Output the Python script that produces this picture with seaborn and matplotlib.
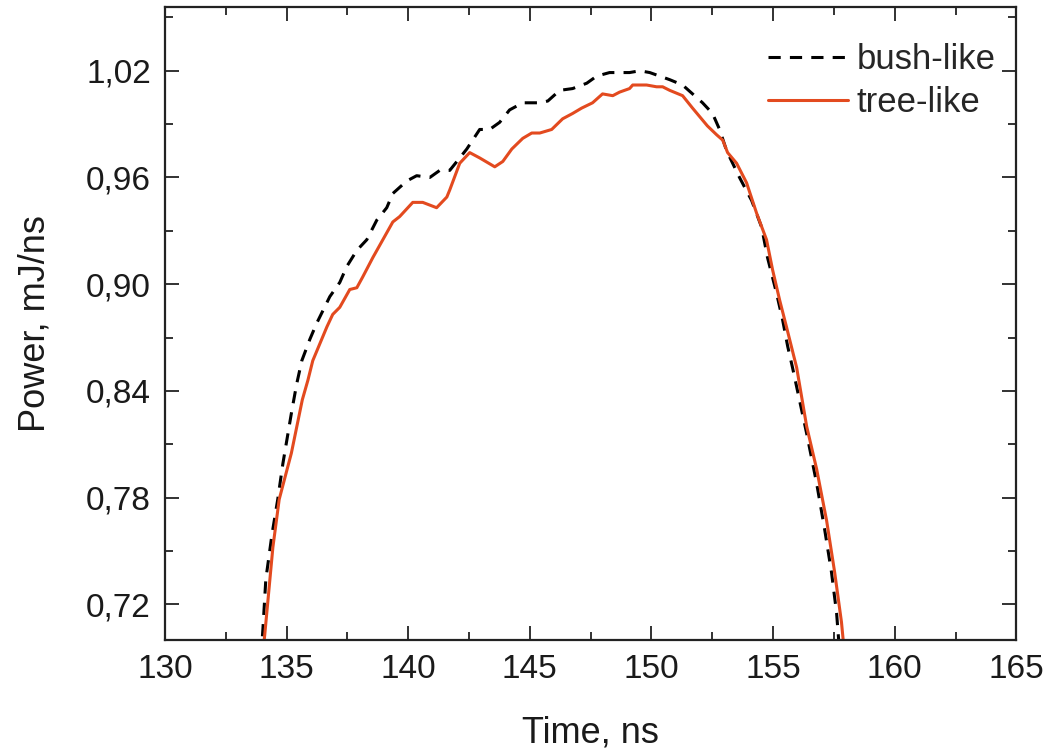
import numpy as np
import pandas as pd
import matplotlib
matplotlib.use("Agg")
import matplotlib.pyplot as plt
from matplotlib.ticker import MultipleLocator, FuncFormatter
import seaborn as sns

# Dados
tempo_bush = [133.95, 134.03, 134.15, 134.40, 134.64, 134.85, 135.22, 135.42, 135.63, 135.96,
              136.24, 136.78, 137.19, 137.48, 137.89, 138.30, 138.71, 139.12, 139.37, 139.94,
              140.35, 140.89, 141.30, 141.71, 142.12, 142.41, 142.94, 143.35, 143.76, 144.17,
              144.71, 145.41, 145.74, 146.23, 146.76, 147.34, 147.75, 148.28, 148.82, 149.10,
              149.52, 149.93, 150.34, 150.75, 151.28, 151.69, 152.10, 152.51, 152.80, 153.09,
              153.62, 154.12, 154.53, 154.77, 155.14, 155.39, 155.60, 155.80, 156.38, 156.79,
              157.12, 157.40, 157.61, 157.75]
potencia_bush = [0.690, 0.706, 0.734, 0.759, 0.779, 0.799, 0.829, 0.844, 0.857, 0.869,
                 0.878, 0.893, 0.901, 0.910, 0.919, 0.925, 0.936, 0.943, 0.951, 0.958,
                 0.961, 0.960, 0.964, 0.964, 0.971, 0.976, 0.987, 0.987, 0.991, 0.998,
                 1.002, 1.002, 1.003, 1.009, 1.010, 1.013, 1.017, 1.019, 1.019, 1.019,
                 1.020, 1.019, 1.017, 1.015, 1.012, 1.007, 1.002, 0.996, 0.987, 0.975,
                 0.960, 0.947, 0.932, 0.915, 0.895, 0.880, 0.865, 0.853, 0.816, 0.788,
                 0.762, 0.738, 0.715, 0.690]

tempo_tree = [134.00, 134.10, 134.44, 134.70, 135.20, 135.65, 135.88, 136.08, 136.66, 136.90,
              137.19, 137.60, 137.89, 138.13, 138.55, 138.96, 139.37, 139.65, 140.19, 140.60,
              141.17, 141.59, 141.71, 142.12, 142.53, 142.94, 143.56, 143.89, 144.26, 144.71,
              145.08, 145.41, 145.90, 146.35, 146.76, 147.13, 147.58, 147.99, 148.41, 148.69,
              149.10, 149.23, 149.80, 150.21, 150.46, 150.75, 151.28, 151.69, 152.30, 152.68,
              152.93, 153.13, 153.50, 153.91, 154.32, 154.73, 154.98, 155.27, 155.55, 155.97,
              156.38, 156.79, 157.20, 157.53, 157.81, 157.95]
potencia_tree = [0.690, 0.702, 0.752, 0.779, 0.805, 0.835, 0.846, 0.857, 0.876, 0.883,
                 0.887, 0.897, 0.898, 0.904, 0.915, 0.925, 0.935, 0.938, 0.946, 0.946,
                 0.943, 0.949, 0.953, 0.968, 0.974, 0.971, 0.966, 0.969, 0.976, 0.982,
                 0.985, 0.985, 0.987, 0.993, 0.996, 0.999, 1.002, 1.007, 1.006, 1.008,
                 1.010, 1.012, 1.012, 1.011, 1.011, 1.009, 1.006, 0.999, 0.989, 0.984,
                 0.981, 0.974, 0.968, 0.957, 0.940, 0.925, 0.908, 0.891, 0.876, 0.853,
                 0.820, 0.796, 0.767, 0.738, 0.710, 0.690]

df_bush = pd.DataFrame({"tempo": tempo_bush, "potencia": potencia_bush})
df_tree = pd.DataFrame({"tempo": tempo_tree, "potencia": potencia_tree})

sns.set_theme(style="ticks")
plt.rcParams["font.family"] = ["Liberation Sans", "DejaVu Sans"]

fig = plt.figure(figsize=(10.5, 7.51), dpi=100)
ax = fig.add_axes([0.157, 0.148, 0.811, 0.843])

sns.lineplot(data=df_bush, x="tempo", y="potencia", ax=ax, estimator=None, sort=False,
             color="black", linewidth=2.2, dashes=False, label="bush-like")
ax.lines[-1].set_dashes((4, 3))
sns.lineplot(data=df_tree, x="tempo", y="potencia", ax=ax, estimator=None, sort=False,
             color="#E34A1F", linewidth=2.2, label="tree-like")

ax.set_xlim(130, 165)
ax.set_ylim(0.70, 1.056)
ax.xaxis.set_major_locator(MultipleLocator(5))
ax.xaxis.set_minor_locator(MultipleLocator(2.5))
ax.yaxis.set_major_locator(MultipleLocator(0.06))
ax.yaxis.set_minor_locator(MultipleLocator(0.03))
ax.yaxis.set_major_formatter(FuncFormatter(lambda v, p: f"{v:.2f}".replace(".", ",")))

ax.tick_params(which="both", direction="in", top=True, right=True, width=1.3, colors="#222222")
ax.tick_params(which="major", length=10, labelsize=24, pad=10, labelcolor="#1a1a1a")
ax.tick_params(which="minor", length=6)
for s in ax.spines.values():
    s.set_linewidth(1.6)
    s.set_color("#222222")

ax.set_xlabel("Time, ns", fontsize=26, labelpad=22, color="#1a1a1a")
ax.set_ylabel("Power, mJ/ns", fontsize=26, labelpad=24, color="#1a1a1a")

ax.legend(loc="upper right", bbox_to_anchor=(1.012, 0.992), frameon=False, fontsize=25,
          handlelength=2.3, handletextpad=0.25, labelspacing=0.3)

plt.savefig("out.png", dpi=100)
plt.close()
